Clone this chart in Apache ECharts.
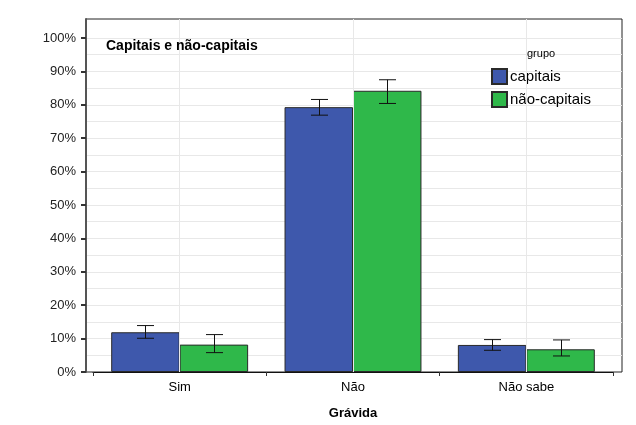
<!DOCTYPE html>
<html><head><meta charset="utf-8">
<script src="https://cdn.jsdelivr.net/npm/echarts@6/dist/echarts.min.js"></script>
<style>html,body{margin:0;padding:0;background:#fff}#c{width:636px;height:425px}</style>
</head><body><div id="c"></div>
<script>
const categories = ['Sim', 'Não', 'Não sabe'];
const seriesNames = ['capitais', 'não-capitais'];
const capitais = [11.9, 79.3, 8.1];
const naoCapitais = [8.2, 84.2, 6.8];
const capitaisLow = [10.1, 76.9, 6.5];
const capitaisHigh = [13.9, 81.6, 9.7];
const naoCapitaisLow = [5.8, 80.4, 4.8];
const naoCapitaisHigh = [11.2, 87.5, 9.6];
const yTicks = [0, 10, 20, 30, 40, 50, 60, 70, 80, 90, 100];
const yGridLines = [5, 10, 15, 20, 25, 30, 35, 40, 45, 50, 55, 60, 65, 70, 75, 80, 85, 90, 95, 100];

const FONT = 'Liberation Sans, Arial, sans-serif';
const YMAX = 105.69;
const BAR_FRAC = 0.395;

function errSeries(name, low, high, sign) {
  return {
    type: 'custom', name: name + '-err', xAxisIndex: 1, yAxisIndex: 1, z: 5, silent: true,
    data: low.map((l, i) => [i, l, high[i]]),
    renderItem: function (params, api) {
      const i = api.value(0);
      const bw = api.size([1, 0])[0] * BAR_FRAC;
      const p1 = api.coord([i, api.value(1)]);
      const p2 = api.coord([i, api.value(2)]);
      const x = Math.round(p1[0] + sign * bw / 2) + 0.5;
      const hw = 8.5;
      const st = { stroke: '#111', lineWidth: 1 };
      return { type: 'group', children: [
        { type: 'line', shape: { x1: x, y1: p1[1], x2: x, y2: p2[1] }, style: st },
        { type: 'line', shape: { x1: x - hw, y1: p1[1], x2: x + hw, y2: p1[1] }, style: st },
        { type: 'line', shape: { x1: x - hw, y1: p2[1], x2: x + hw, y2: p2[1] }, style: st }
      ]};
    }
  };
}

const chart = echarts.init(document.getElementById('c'));
chart.setOption({
  animation: false,
  textStyle: { fontFamily: FONT },
  title: [
    { text: 'Capitais e não-capitais', left: 106, top: 39, padding: 0,
      textStyle: { fontFamily: FONT, fontSize: 14, fontWeight: 'bold', color: '#000' } },
    { text: 'grupo', left: 527, top: 48, padding: 0,
      textStyle: { fontFamily: FONT, fontSize: 11, fontWeight: 'normal', color: '#000' } }
  ],
  legend: {
    data: seriesNames, orient: 'vertical', left: 491, top: 68, padding: 0,
    itemWidth: 15, itemHeight: 15, itemGap: 6, icon: 'rect',
    textStyle: { fontFamily: FONT, fontSize: 15, color: '#000', padding: [0, 0, 0, -2] }
  },
  grid: [
    { left: 86, right: 14, top: 19, bottom: 53, show: true, borderColor: '#222', borderWidth: 1 },
    { left: 93, right: 23, top: 19, bottom: 53 }
  ],
  xAxis: [
    { type: 'value', gridIndex: 0, min: 0, max: 1, show: false },
    { type: 'category', gridIndex: 1, data: categories,
      axisLine: { lineStyle: { color: '#111', width: 1 } },
      axisTick: { alignWithLabel: true, length: 7, lineStyle: { color: '#333' } },
      axisLabel: { fontFamily: FONT, fontSize: 13, color: '#000', margin: 9 },
      splitLine: { show: false },
      name: 'Grávida', nameLocation: 'middle', nameGap: 35,
      nameTextStyle: { fontFamily: FONT, fontSize: 13, fontWeight: 'bold', color: '#000' } },
    { type: 'category', gridIndex: 1, data: categories, position: 'bottom',
      axisLine: { show: false }, axisLabel: { show: false },
      axisTick: { show: true, length: 4, lineStyle: { color: '#333' } } }
  ],
  yAxis: [
    { type: 'value', gridIndex: 0, min: 0, max: YMAX, interval: 5, z: 4,
      axisLine: { show: true, lineStyle: { color: '#555', width: 2 } },
      axisTick: { show: true, length: 5, customValues: yTicks, lineStyle: { color: '#333', width: 2 } },
      axisLabel: { customValues: yTicks, formatter: '{value}%', fontFamily: FONT, fontSize: 13, color: '#222', margin: 10 },
      splitLine: { show: false } },
    { type: 'value', gridIndex: 1, min: 0, max: YMAX, show: false, splitLine: { show: false } },
    { type: 'value', gridIndex: 0, min: 0, max: YMAX, interval: 5, z: 0,
      axisLine: { show: false },
      axisTick: { show: false, customValues: yGridLines },
      axisLabel: { show: false, customValues: yGridLines },
      splitLine: { show: true, lineStyle: { color: '#e8e8e8', width: 1 } } }
  ],
  series: [
    { type: 'line', xAxisIndex: 1, yAxisIndex: 1, data: [], silent: true, z: 1,
      markLine: { silent: true, symbol: 'none', label: { show: false },
        lineStyle: { color: '#e8e8e8', type: 'solid', width: 1 },
        data: categories.map(c => ({ xAxis: c })) } },
    { type: 'bar', name: seriesNames[0], xAxisIndex: 1, yAxisIndex: 1, data: capitais,
      barWidth: (BAR_FRAC * 100) + '%', barGap: '0%', z: 3,
      itemStyle: { color: '#3E58AC', borderColor: '#2a2a2a', borderWidth: 1 } },
    { type: 'bar', name: seriesNames[1], xAxisIndex: 1, yAxisIndex: 1, data: naoCapitais,
      barWidth: (BAR_FRAC * 100) + '%', barGap: '0%', z: 3,
      itemStyle: { color: '#2FB84A', borderColor: '#2a2a2a', borderWidth: 1 } },
    errSeries('capitais', capitaisLow, capitaisHigh, -1),
    errSeries('naocap', naoCapitaisLow, naoCapitaisHigh, 1)
  ]
});
</script></body></html>
